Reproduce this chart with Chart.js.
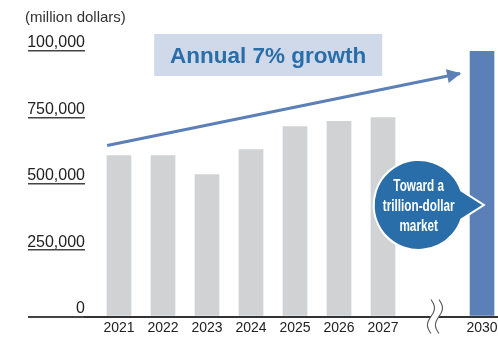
<!DOCTYPE html>
<html>
<head>
<meta charset="utf-8">
<script src="https://cdn.jsdelivr.net/npm/chart.js@4"></script>
<style>
  html, body { margin: 0; padding: 0; background: #fff; overflow: hidden; }
  #wrap { width: 498px; height: 337px; overflow: hidden; }
</style>
</head>
<body>
<div id="wrap"><canvas id="chart" width="530" height="337"></canvas></div>
<script>
const years = ['2021', '2022', '2023', '2024', '2025', '2026', '2027', '2030'];
const marketSize = [606000, 606000, 535000, 629000, 715000, 735000, 749000, 1000000];
const yTickLabels = ['0', '250,000', '500,000', '750,000', '100,000'];
const headline = 'Annual 7% growth';
const bubbleLines = ['Toward a', 'trillion-dollar', 'market'];
// trend arrow ends as [slot, value]
const trendStart = [-0.27, 644000];
const trendEnd = [7.75, 915000];

// axis is broken after 2027, so 2030 sits a bit past the gap
const BREAK_AFTER = 6;
const BREAK_GAP = 1.25;
const slots = years.map((_, i) => i > BREAK_AFTER ? i + BREAK_GAP : i);

const GREY = '#d1d2d4';
const BLUE = '#5b7fb7';
const DARK_BLUE = '#2a6ea9';
const FONT = '"Liberation Sans", Arial, Helvetica, sans-serif';

const decorations = {
  id: 'decorations',
  afterDatasetsDraw(chart) {
    const { ctx, scales: { x, y } } = chart;

    // arrowhead on the trend line
    const pts = chart.getDatasetMeta(1).data;
    const a = pts[0], b = pts[1];
    ctx.save();
    ctx.translate(b.x, b.y);
    ctx.rotate(Math.atan2(b.y - a.y, b.x - a.x));
    ctx.fillStyle = BLUE;
    ctx.beginPath();
    ctx.moveTo(1, 0);
    ctx.lineTo(-13, -7);
    ctx.lineTo(-13, 7);
    ctx.closePath();
    ctx.fill();
    ctx.restore();

    // headline box
    const hx = x.getPixelForValue(3.39), hy = y.getPixelForValue(985000);
    ctx.save();
    ctx.fillStyle = '#d0d9ea';
    ctx.fillRect(hx - 114, hy - 21, 228, 42);
    ctx.fillStyle = DARK_BLUE;
    ctx.font = 'bold 22.5px ' + FONT;
    ctx.textAlign = 'center';
    ctx.textBaseline = 'alphabetic';
    ctx.fillText(headline, hx, hy + 8);
    ctx.restore();

    // speech bubble pointing at the 2030 bar
    const cx = x.getPixelForValue(6.81), cy = y.getPixelForValue(420000);
    const tipX = x.getPixelForValue(slots[slots.length - 1]);
    const r = 44, t = 0.32;
    ctx.save();
    ctx.beginPath();
    ctx.arc(cx, cy, r, t, Math.PI * 2 - t);
    ctx.lineTo(tipX, cy);
    ctx.closePath();
    ctx.strokeStyle = '#fff';
    ctx.lineWidth = 4;
    ctx.lineJoin = 'miter';
    ctx.stroke();
    ctx.fillStyle = DARK_BLUE;
    ctx.fill();

    ctx.fillStyle = '#fff';
    ctx.font = 'bold 17px ' + FONT;
    ctx.textAlign = 'center';
    ctx.textBaseline = 'alphabetic';
    bubbleLines.forEach((line, i) => {
      ctx.save();
      ctx.translate(cx, cy - 14 + i * 20);
      ctx.scale(0.69, 1);
      ctx.fillText(line, 0, 0);
      ctx.restore();
    });
    ctx.restore();
  },
  afterDraw(chart) {
    // wavy break marks across the axis
    const { ctx, scales: { x, y } } = chart;
    const bx = x.getPixelForValue(7.18), by = y.getPixelForValue(0);
    const top = by - 17, h = 34, amp = 3.5;
    const wave = (cx, dir) => {
      const pts = [];
      for (let k = 0; k <= 34; k++) {
        const yy = top + (k / 34) * h;
        pts.push([cx + amp * Math.sin(2 * Math.PI * (yy - top) / h), yy]);
      }
      return dir > 0 ? pts : pts.reverse();
    };
    const left = wave(bx - 4, 1), right = wave(bx + 4, -1);
    ctx.save();
    ctx.beginPath();
    left.concat(right).forEach(([px, py], i) => i ? ctx.lineTo(px, py) : ctx.moveTo(px, py));
    ctx.closePath();
    ctx.fillStyle = '#fff';
    ctx.fill();
    ctx.strokeStyle = '#555';
    ctx.lineWidth = 1.1;
    [left, right].forEach(w => {
      ctx.beginPath();
      w.forEach(([px, py], i) => i ? ctx.lineTo(px, py) : ctx.moveTo(px, py));
      ctx.stroke();
    });
    ctx.restore();
  }
};

new Chart(document.getElementById('chart'), {
  type: 'bar',
  data: {
    datasets: [{
      type: 'bar',
      data: slots.map((s, i) => ({ x: s, y: marketSize[i] })),
      backgroundColor: years.map(yr => yr === '2030' ? BLUE : GREY),
      barThickness: 24,
      order: 1
    }, {
      type: 'line',
      data: [{ x: trendStart[0], y: trendStart[1] }, { x: trendEnd[0], y: trendEnd[1] }],
      borderColor: BLUE,
      borderWidth: 3,
      pointRadius: 0,
      order: 0
    }]
  },
  options: {
    responsive: false,
    animation: false,
    devicePixelRatio: 1,
    layout: { padding: { left: 25, right: 0, top: 0, bottom: 0.5 } },
    plugins: {
      legend: { display: false },
      tooltip: { enabled: false },
      title: {
        display: true,
        text: '(million dollars)',
        align: 'start',
        color: '#333',
        font: { family: FONT, size: 15, weight: 'normal' },
        padding: { top: 9, bottom: 24 }
      }
    },
    scales: {
      x: {
        type: 'linear',
        offset: false,
        bounds: 'data',
        min: -0.773,
        max: 9.34,
        afterBuildTicks: s => { s.ticks = slots.map(v => ({ value: v })); },
        afterFit: s => { s.paddingLeft = 0; s.paddingRight = 0; s.height = 20; },
        ticks: {
          autoSkip: false,
          maxRotation: 0,
          padding: 3,
          color: '#222',
          font: { family: FONT, size: 14 },
          callback: (v, i) => years[i]
        },
        grid: { display: false, drawTicks: false, offset: false },
        border: { display: true, color: '#333', width: 2, z: 1 }
      },
      y: {
        min: 0,
        max: 1000000,
        afterFit: s => { s.width = 60; },
        ticks: {
          stepSize: 250000,
          padding: -57,
          labelOffset: -8,
          color: '#222',
          font: { family: FONT, size: 16 },
          callback: (v, i) => yTickLabels[i]
        },
        grid: {
          drawOnChartArea: false,
          tickLength: 57,
          color: '#444',
          lineWidth: c => c.tick && c.tick.value === 0 ? 2 : 1.5
        },
        border: { display: false }
      }
    }
  },
  plugins: [decorations]
});
</script>
</body>
</html>
